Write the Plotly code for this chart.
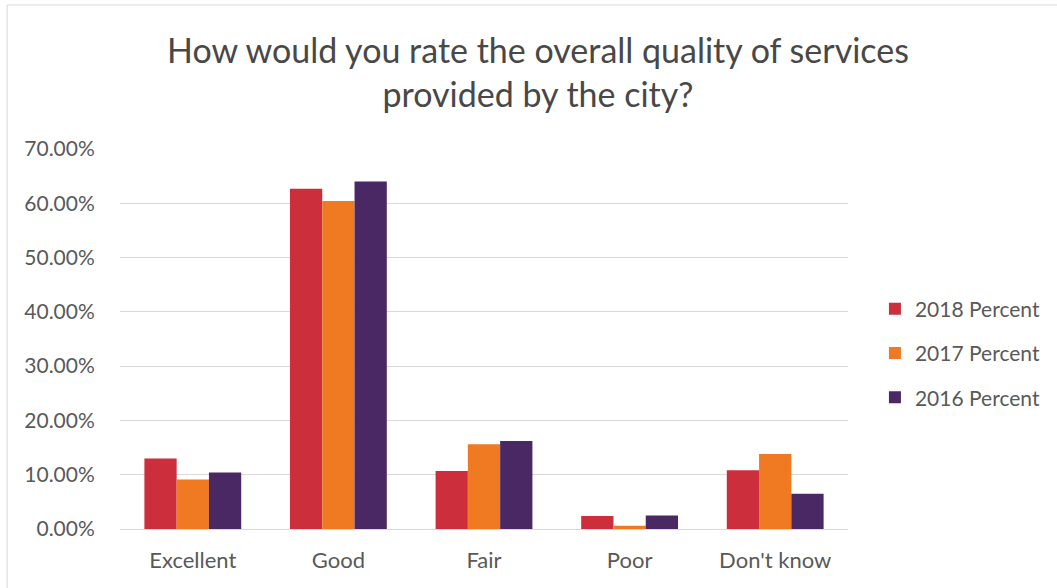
import plotly.graph_objects as go

categories = ["Excellent", "Good", "Fair", "Poor", "Don't know"]
pct_2018 = [0.130, 0.627, 0.107, 0.024, 0.108]
pct_2017 = [0.091, 0.604, 0.156, 0.006, 0.138]
pct_2016 = [0.104, 0.640, 0.162, 0.025, 0.065]
series_names = ["2018 Percent", "2017 Percent", "2016 Percent"]
series_colors = ["#CC2F3B", "#F07A22", "#4A2863"]
y_ticks = [0.0, 0.1, 0.2, 0.3, 0.4, 0.5, 0.6, 0.7]

FONT = "Lato, 'Open Sans', sans-serif"
TEXT = "#595959"

fig = go.Figure()
for i, (name, vals, col) in enumerate(zip(series_names, [pct_2018, pct_2017, pct_2016], series_colors)):
    fig.add_trace(go.Bar(
        x=categories, y=vals, name=name,
        marker=dict(color=col, line=dict(width=0)),
        legendgroup=f"g{i}",
    ))

fig.update_layout(
    width=1057, height=588,
    barmode="group", bargap=0.335, bargroupgap=0,
    paper_bgcolor="white", plot_bgcolor="white",
    margin=dict(l=120, r=207, t=149, b=59),
    title=dict(
        text="How would you rate the overall quality of services<br>provided by the city?",
        x=0.509, xanchor="center", y=0.893, yanchor="middle",
        font=dict(family=FONT, size=34, color="#484848"),
    ),
    font=dict(family=FONT, size=21, color=TEXT),
    legend=dict(
        x=1.037, xanchor="left", y=0.463, yanchor="middle",
        traceorder="grouped", tracegroupgap=14,
        font=dict(family=FONT, size=21, color=TEXT),
        itemwidth=30,
    ),
    showlegend=True,
)
fig.update_yaxes(
    range=[0, 0.7], tickvals=y_ticks, tickformat=".2%",
    showgrid=True, gridcolor="#D9D9D9", gridwidth=1,
    zeroline=False, showline=False,
    ticks="outside", ticklen=20, tickcolor="rgba(0,0,0,0)",
    tickfont=dict(family=FONT, size=21, color=TEXT),
)
fig.update_xaxes(
    showline=True, linecolor="#D9D9D9", linewidth=1,
    ticks="outside", ticklen=12, tickcolor="rgba(0,0,0,0)",
    tickfont=dict(family=FONT, size=22, color=TEXT),
)
# thin frame edges around the chart area
fig.add_shape(type="line", xref="paper", yref="paper", x0=-0.155, x1=1.3, y0=1.379, y1=1.379,
              line=dict(color="#DADADA", width=1))
fig.add_shape(type="line", xref="paper", yref="paper", x0=-0.155, x1=-0.155, y0=1.379, y1=-0.2,
              line=dict(color="#DADADA", width=1))

fig.write_html("out.html")
